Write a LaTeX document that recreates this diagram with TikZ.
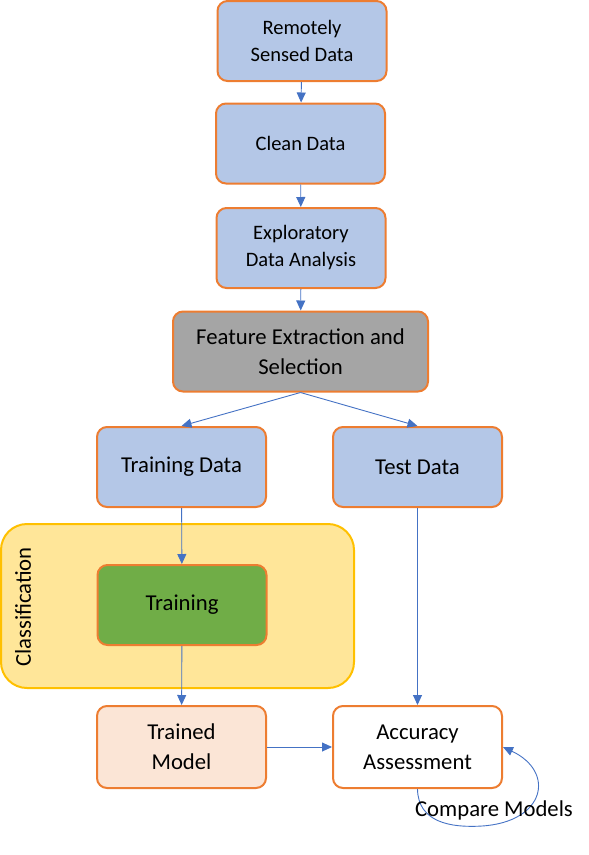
\documentclass[tikz,border=0pt]{standalone}
\usepackage{fontspec}
\setmainfont{Carlito}
\usetikzlibrary{arrows.meta}
\definecolor{boxblue}{HTML}{B4C7E7}
\definecolor{boxedge}{HTML}{ED7D31}
\definecolor{boxgray}{HTML}{A5A5A5}
\definecolor{boxgreen}{HTML}{70AD47}
\definecolor{boxpeach}{HTML}{FBE5D6}
\definecolor{classfill}{HTML}{FFE699}
\definecolor{classedge}{HTML}{FFC000}
\definecolor{flowblue}{HTML}{4472C4}
\newcommand*\smallfont{\fontsize{20.5}{27}\selectfont}
\newcommand*\bigfont  {\fontsize{22.7}{30}\selectfont}
\tikzset{
    box/.style      = {draw=boxedge, line width=2pt, rounded corners=10pt,
                       minimum width=169pt, minimum height=80pt,
                       inner sep=0pt, align=center, font=\bigfont},
    bluebox/.style  = {box, fill=boxblue, font=\smallfont},
    bigbluebox/.style = {box, fill=boxblue},
    graybox/.style  = {box, fill=boxgray, minimum width=255pt},
    greenbox/.style = {box, fill=boxgreen},
    peachbox/.style = {box, fill=boxpeach, minimum height=82pt},
    whitebox/.style = {box, fill=white, minimum height=82pt},
    classbox/.style = {draw=classedge, fill=classfill, line width=2pt,
                       rounded corners=26pt, minimum width=353pt,
                       minimum height=164pt, inner sep=0pt},
    flow/.style     = {draw=flowblue, line width=0.9pt,
                       -{Triangle[length=10pt,width=9pt]}},
  }
\begin{document}
\begin{tikzpicture}[x=1pt,y=-1pt]
    \useasboundingbox (0,0) rectangle (589,855);

    % the classification block goes behind the training step
    \node[classbox] (C) at (177.5,606) {};
    \node[rotate=90, font=\bigfont] (Clab) at (23,607) {Classification};

    % main chain
    \node[bluebox] (rsd)   at (302,41)    {Remotely\\Sensed Data};
    \node[bluebox] (clean) at (300.5,143.5) {Clean Data};
    \node[bluebox] (eda)   at (301,248)   {Exploratory\\Data Analysis};
    \node[graybox] (feat)  at (300.5,351.5) {Feature Extraction and\\Selection};

    % split into training and test data
    \node[bigbluebox] (trd)  at (181.5,467) {Training Data};
    \node[bigbluebox] (ted)  at (417.5,467) {Test Data};
    \node[greenbox]   (trn)  at (182,605)   {Training};
    \node[peachbox]   (mdl)  at (181.5,747) {Trained\\Model};
    \node[whitebox]   (acc)  at (417.5,747) {Accuracy\\Assessment};

    % arrows from node to node
    \foreach \a/\b in {rsd/clean, clean/eda, eda/feat, trd/trn, trn/mdl, ted/acc, mdl/acc} {
        \draw[flow] (\a) -- (\b);
    }
    \draw[flow] (feat.south) -- (trd.north);
    \draw[flow] (feat.south) -- (ted.north);

    % loop back onto the assessment
    \draw[flow] (acc.south) .. controls (418,822) and (450,828) .. (482,826)
        .. controls (545,822) and (556,772) .. (acc.east);
    \node[font=\bigfont] (cmp) at (494,810) {Compare Models};
\end{tikzpicture}
\end{document}
